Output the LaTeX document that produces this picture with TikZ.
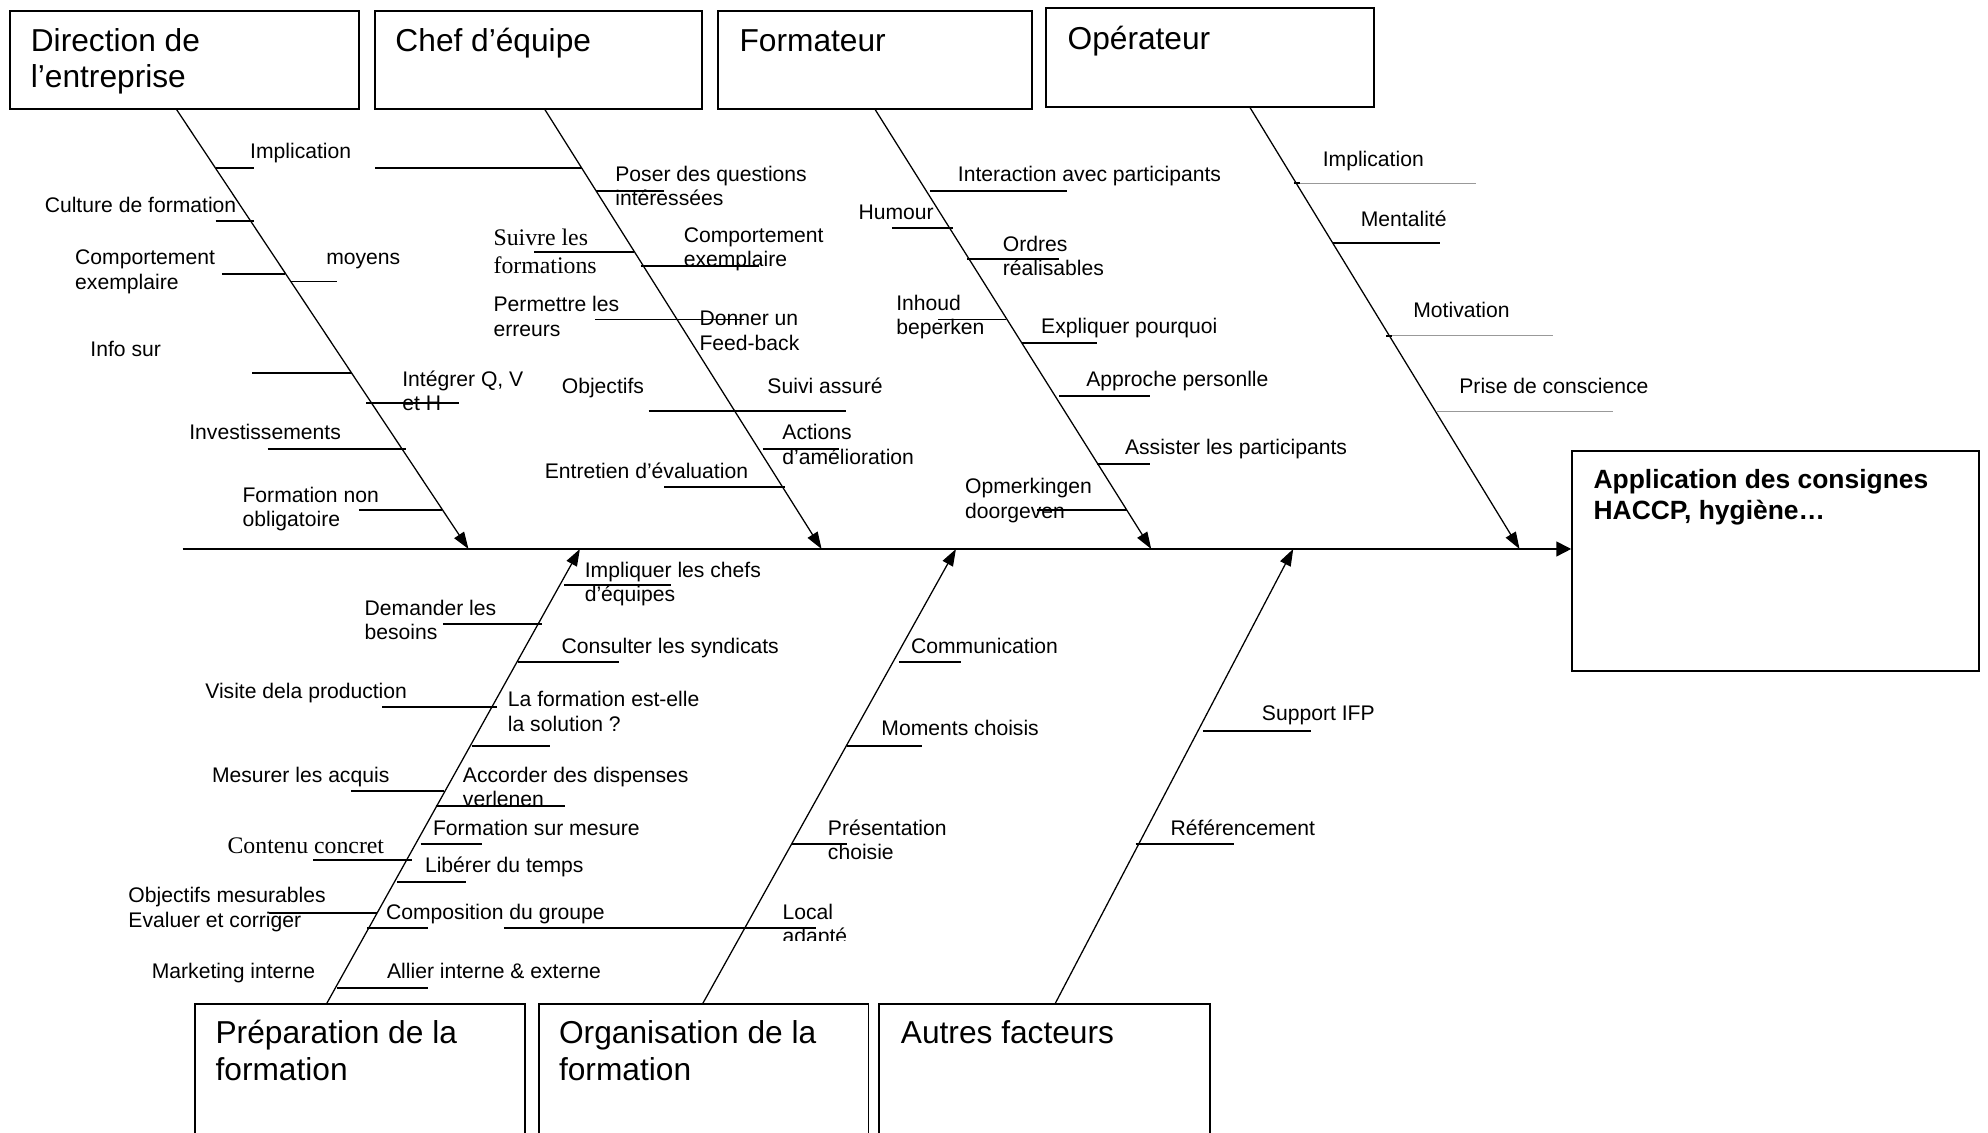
\documentclass[tikz,border=0pt]{standalone}
\usepackage{fontspec}
\setmainfont{Liberation Sans}
\newfontfamily\serifface{Liberation Serif}
\usetikzlibrary{arrows.meta,fit}

\begin{document}
\begin{tikzpicture}[x=0.6pt,y=-0.6pt,
  catbox/.style={draw,line width=0.9pt,inner sep=0pt},
  cattitle/.style={anchor=base west,inner sep=0pt,align=left,font=\fontsize{15}{17.2}\selectfont},
  cattitle2/.style={cattitle,yshift=-17.2pt},
  efftitle/.style={anchor=base west,inner sep=0pt,align=left,font=\bfseries\fontsize{12.5}{14.8}\selectfont,yshift=-14.8pt},
  lbl/.style={anchor=base west,inner sep=0pt,align=left,font=\fontsize{10}{11.5}\selectfont},
  lbl2/.style={lbl,yshift=-11.5pt},
  slbl/.style={anchor=base west,inner sep=0pt,align=left,font=\serifface\fontsize{11.25}{13}\selectfont},
  slbl2/.style={slbl,yshift=-13pt},
  bone/.style={line width=0.6pt,-{Triangle[length=8pt,width=5.5pt]}},
  spine/.style={line width=0.8pt,-{Triangle[length=7pt,width=7pt]}},
  twig/.style={line width=0.9pt},
  faint/.style={line width=0.4pt,draw=black!40},
]
\useasboundingbox (0,0) rectangle (1568,893);
\clip (0,0) rectangle (1568,893);

% ---------- category boxes ----------
\node[catbox,fit={(8,9) (283,86)}] (dir) {};
\node[catbox,fit={(296,9) (554,86)}] (chef) {};
\node[catbox,fit={(566,9) (814,86)}] (form) {};
\node[catbox,fit={(825,6) (1084,84.5)}] (oper) {};
\node[catbox,fit={(154,792) (414,910)}] (prep) {};
\node[catbox,fit={(425,792) (685,910)}] (org) {};
\node[catbox,fit={(693,792) (954,910)}] (autre) {};
\node[catbox,fit={(1240,356) (1561,529)}] (app) {};

% titles: the coordinate is the baseline of the first line
\node[cattitle2] (dirT) at (24,40.3) {Direction de\\l’entreprise};
\node[cattitle] (chefT) at (311.6,40.3) {Chef d’équipe};
\node[cattitle] (formT) at (583,40.8) {Formateur};
\node[cattitle] (operT) at (841.7,38.7) {Opérateur};
\node[cattitle2] (prepT) at (169.7,823.4) {Préparation de la\\formation};
\node[cattitle2] (orgT) at (440.6,823.4) {Organisation de la\\formation};
\node[cattitle] (autreT) at (710.2,823.4) {Autres facteurs};
\node[efftitle] (appT) at (1256.6,385) {Application des consignes\\HACCP, hygiène…};

% ---------- spine and main bones ----------
\coordinate (tail) at (144,433);
\draw[spine] (tail) -- (tail -| app.west);

\coordinate (b1s) at (139,86);    \coordinate (b1e) at (369.5,433);
\coordinate (b2s) at (429.5,86);  \coordinate (b2e) at (648,433);
\coordinate (b3s) at (690,86);    \coordinate (b3e) at (908,433);
\coordinate (b4s) at (985.7,84.5);\coordinate (b4e) at (1198.5,433);
\coordinate (b5s) at (257.4,792); \coordinate (b5e) at (457.4,433);
\coordinate (b6s) at (554,792);   \coordinate (b6e) at (754,433);
\coordinate (b7s) at (832,792);   \coordinate (b7e) at (1020,433);

\foreach \i in {1,...,7} \draw[bone] (b\i s) -- (b\i e);

% ---------- Direction de l'entreprise ----------
\draw[twig] (170,132.4) -- (200,132.4);
\draw[twig] (296,132.4) -- (459,132.4);
\draw[twig] (170,174) -- (200,174);
\draw[twig] (175,216) -- (225,216);
\draw[twig] (229,222) -- (266,222);
\draw[twig] (199,294) -- (278,294);
\draw[twig] (289,318) -- (362,318);
\draw[twig] (211,354) -- (320,354);
\draw[twig] (283,402) -- (349,402);
\node[lbl] (d1) at (197,125) {Implication};
\node[lbl] (d2) at (35,168) {Culture de formation};
\node[lbl2] (d3) at (59,209) {Comportement\\exemplaire};
\node[lbl] (d4) at (257,209) {moyens};
\node[lbl] (d5) at (71,281) {Info sur};
\node[lbl2] (d6) at (317,305) {Intégrer Q, V\\et H};
\node[lbl] (d7) at (149,347) {Investissements};
\node[lbl2] (d8) at (191,396) {Formation non\\obligatoire};

% ---------- Chef d'équipe ----------
\draw[twig] (470.3,150.7) -- (523.9,150.7);
\draw[twig] (421.4,198.6) -- (500,198.6);
\draw[twig] (505.5,209.9) -- (598.4,209.9);
\draw[twig] (469.5,252) -- (587,252);
\draw[twig] (511.6,324) -- (667.2,324);
\draw[twig] (601.5,354) -- (661.5,354);
\draw[twig] (523.9,384) -- (619.4,384);
\node[lbl2] (c1) at (485,143) {Poser des questions\\intéressées};
\node[slbl2] (c2) at (389,194) {Suivre les\\formations};
\node[lbl2] (c3) at (539,191) {Comportement\\exemplaire};
\node[lbl2] (c4) at (389,246) {Permettre les\\erreurs};
\node[lbl2] (c5) at (551.4,257) {Donner un\\Feed-back};
\node[lbl] (c6) at (442.8,310.6) {Objectifs};
\node[lbl] (c7) at (605,310.6) {Suivi assuré};
\node[lbl2] (c8) at (616.8,347) {Actions\\d’amélioration};
\node[lbl] (c9) at (429.4,377.4) {Entretien d’évaluation};

% ---------- Formateur ----------
\draw[twig] (733.3,150.7) -- (841.2,150.7);
\draw[twig] (703.5,179.7) -- (751.3,179.7);
\draw[twig] (762.8,204) -- (835.5,204);
\draw[twig] (739.8,252) -- (793.4,252);
\draw[twig] (806,270.4) -- (864.9,270.4);
\draw[twig] (835.5,312) -- (907,312);
\draw[twig] (864.9,366) -- (907,366);
\draw[twig] (818.2,402.3) -- (889,402.3);
\node[lbl] (f1) at (755.2,143) {Interaction avec participants};
\node[lbl] (f2) at (676.8,173.5) {Humour};
\node[lbl2] (f3) at (790.7,198) {Ordres\\réalisables};
\node[lbl2] (f4) at (706.6,245) {Inhoud\\beperken};
\node[lbl] (f5) at (820.9,262.7) {Expliquer pourquoi};
\node[lbl] (f6) at (856.5,305) {Approche personlle};
\node[lbl] (f7) at (887,358.5) {Assister les participants};
\node[lbl2] (f8) at (760.9,389.5) {Opmerkingen\\doorgeven};

% ---------- Opérateur ----------
\draw[faint] (1020.5,144.4) -- (1164.5,144.4);
\draw[twig] (1020.5,144.4) -- (1025,144.4);
\draw[twig] (1051.5,191.9) -- (1135.9,191.9);
\draw[faint] (1093.5,264.8) -- (1224.6,264.8);
\draw[twig] (1093.5,264.8) -- (1098,264.8);
\draw[faint] (1133.5,324.6) -- (1272.3,324.6);
\node[lbl] (o1) at (1043,131) {Implication};
\node[lbl] (o2) at (1073,179) {Mentalité};
\node[lbl] (o3) at (1114.4,250.8) {Motivation};
\node[lbl] (o4) at (1150.7,310.6) {Prise de conscience};

% ---------- Préparation de la formation ----------
\draw[twig] (445,461.6) -- (529.5,461.6);
\draw[twig] (349.3,492) -- (427.5,492);
\draw[twig] (408.8,521.8) -- (488,521.8);
\draw[twig] (301.4,557.8) -- (392.2,557.8);
\draw[twig] (372.2,588.2) -- (433.8,588.2);
\draw[twig] (277,623.9) -- (350,623.9);
\draw[twig] (343.6,635.8) -- (445.8,635.8);
\draw[twig] (331.7,665.6) -- (379.9,665.6);
\draw[twig] (247.2,678.1) -- (325.3,678.1);
\draw[twig] (313,696) -- (367.6,696);
\draw[twig] (212,720.1) -- (297.2,720.1);
\draw[twig] (289.5,732) -- (337.7,732);
\draw[twig] (397.5,732) -- (643.8,732);
\draw[twig] (265.5,779.6) -- (337.7,779.6);
\node[lbl2] (p1) at (460.9,455.3) {Impliquer les chefs\\d’équipes};
\node[lbl2] (p2) at (287.3,485.4) {Demander les\\besoins};
\node[lbl] (p3) at (442.6,515.2) {Consulter les syndicats};
\node[lbl] (p4) at (161.6,550.6) {Visite dela production};
\node[lbl2] (p5) at (400.3,557.4) {La formation est-elle\\la solution ?};
\node[lbl] (p6) at (166.9,617) {Mesurer les acquis};
\begin{scope}
  \clip (300,590) rectangle (580,634.5);
  \node[lbl2] (p7) at (364.8,617) {Accorder des dispenses\\verlenen};
\end{scope}
\node[lbl] (p8) at (341.2,658.7) {Formation sur mesure};
\node[slbl] (p9) at (179.2,673.2) {Contenu concret};
\node[lbl] (p10) at (334.9,688.4) {Libérer du temps};
\node[lbl2] (p11) at (101,712.2) {Objectifs mesurables\\Evaluer et corriger};
\node[lbl] (p12) at (304.2,725.1) {Composition du groupe};
\node[lbl] (p13) at (119.4,771.8) {Marketing interne};
\node[lbl] (p14) at (305,771.8) {Allier interne \& externe};

% ---------- Organisation de la formation ----------
\draw[twig] (709,521.8) -- (757.7,521.8);
\draw[twig] (668,588.2) -- (727.5,588.2);
\draw[twig] (624.5,665.6) -- (668,665.6);
\node[lbl] (g1) at (718.3,515.2) {Communication};
\node[lbl] (g2) at (694.9,580.4) {Moments choisis};
\node[lbl2] (g3) at (652.7,658.7) {Présentation\\choisie};
\begin{scope}
  \clip (600,700) rectangle (700,742);
  \node[lbl2] (g4) at (616.9,725.1) {Local\\adapté};
\end{scope}

% ---------- Autres facteurs ----------
\draw[twig] (948.7,576.3) -- (1033.7,576.3);
\draw[twig] (895.6,665.6) -- (973.6,665.6);
\node[lbl] (a1) at (995,568.4) {Support IFP};
\node[lbl] (a2) at (922.9,658.7) {Référencement};
\end{tikzpicture}
\end{document}
